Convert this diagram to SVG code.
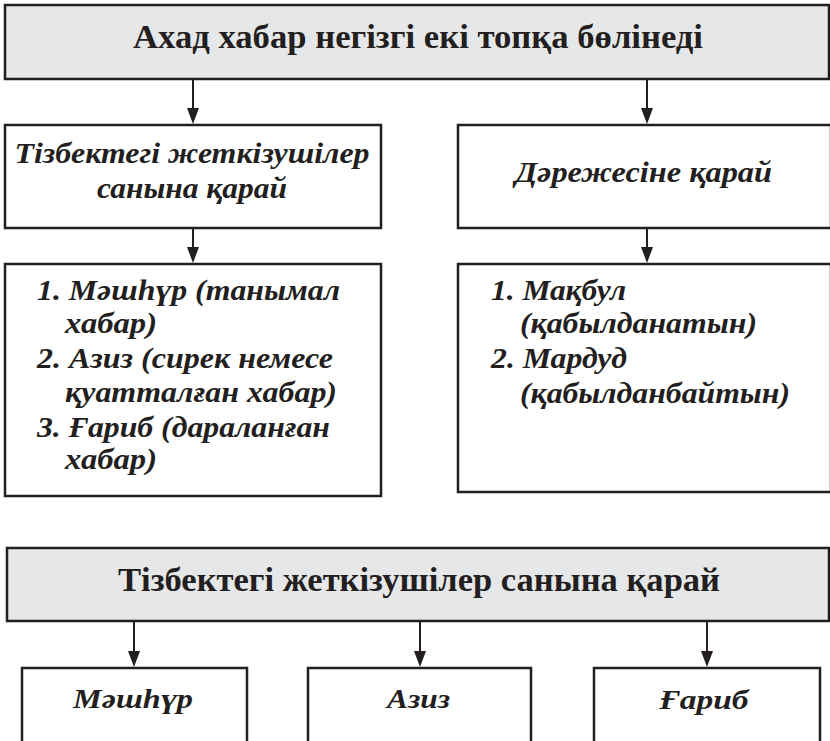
<svg xmlns="http://www.w3.org/2000/svg" width="830" height="741" viewBox="0 0 830 741">
  <defs>
    <style>
      .box { fill: #ffffff; stroke: #231f20; stroke-width: 2.5; }
      .gbox { fill: #e6e7e8; stroke: #231f20; stroke-width: 2.5; }
      .conn { stroke: #231f20; stroke-width: 2; fill: none; }
      .ah { fill: #231f20; }
    </style>
    <path id="ah" class="ah" d="M-6,-16 L6,-16 L0,0 Z"/>
  </defs>

  <g id="connectors">
    <line class="conn" x1="193" y1="80" x2="193" y2="110"/>
    <use href="#ah" x="193" y="124"/>
    <line class="conn" x1="647" y1="80" x2="647" y2="110"/>
    <use href="#ah" x="647" y="124"/>
    <line class="conn" x1="193" y1="229" x2="193" y2="250"/>
    <use href="#ah" x="193" y="263"/>
    <line class="conn" x1="647" y1="229" x2="647" y2="250"/>
    <use href="#ah" x="647" y="263"/>
    <line class="conn" x1="134" y1="622" x2="134" y2="654"/>
    <use href="#ah" x="134" y="667"/>
    <line class="conn" x1="420" y1="622" x2="420" y2="654"/>
    <use href="#ah" x="420" y="667"/>
    <line class="conn" x1="707" y1="622" x2="707" y2="654"/>
    <use href="#ah" x="707" y="667"/>
  </g>

  <g id="top-heading">
    <rect class="gbox" x="5" y="5" width="824" height="74"/>
    <text font-family="Liberation Serif" font-size="33" font-weight="bold" fill="#231f20" x="418" y="48" text-anchor="middle" textLength="570" lengthAdjust="spacingAndGlyphs">Ахад хабар негізгі екі топқа бөлінеді</text>
  </g>

  <g id="chain-count">
    <rect class="box" x="5" y="125" width="376" height="103"/>
    <text font-family="Liberation Serif" font-size="30" font-weight="bold" font-style="italic" fill="#231f20" x="192" y="163" text-anchor="middle" textLength="355" lengthAdjust="spacingAndGlyphs">Тізбектегі жеткізушілер</text>
    <text font-family="Liberation Serif" font-size="30" font-weight="bold" font-style="italic" fill="#231f20" x="192" y="198" text-anchor="middle" textLength="190" lengthAdjust="spacingAndGlyphs">санына қарай</text>
  </g>

  <g id="degree">
    <rect class="box" x="458" y="125" width="373" height="103"/>
    <text font-family="Liberation Serif" font-size="30" font-weight="bold" font-style="italic" fill="#231f20" x="643.5" y="182" text-anchor="middle" textLength="257" lengthAdjust="spacingAndGlyphs">Дәрежесіне қарай</text>
  </g>

  <g id="chain-list">
    <rect class="box" x="5" y="264" width="376" height="232"/>
    <text font-family="Liberation Serif" font-size="29" font-weight="bold" font-style="italic" fill="#231f20" x="37" y="300" textLength="303" lengthAdjust="spacingAndGlyphs">1. Мәшһүр (танымал</text>
    <text font-family="Liberation Serif" font-size="29" font-weight="bold" font-style="italic" fill="#231f20" x="65" y="333" textLength="92" lengthAdjust="spacingAndGlyphs">хабар)</text>
    <text font-family="Liberation Serif" font-size="29" font-weight="bold" font-style="italic" fill="#231f20" x="37" y="368" textLength="296" lengthAdjust="spacingAndGlyphs">2. Азиз (сирек немесе</text>
    <text font-family="Liberation Serif" font-size="29" font-weight="bold" font-style="italic" fill="#231f20" x="65" y="402" textLength="272" lengthAdjust="spacingAndGlyphs">қуатталған хабар)</text>
    <text font-family="Liberation Serif" font-size="29" font-weight="bold" font-style="italic" fill="#231f20" x="37" y="437" textLength="293" lengthAdjust="spacingAndGlyphs">3. Ғариб (дараланған</text>
    <text font-family="Liberation Serif" font-size="29" font-weight="bold" font-style="italic" fill="#231f20" x="65" y="469" textLength="92" lengthAdjust="spacingAndGlyphs">хабар)</text>
  </g>

  <g id="degree-list">
    <rect class="box" x="458" y="264" width="373" height="228"/>
    <text font-family="Liberation Serif" font-size="29" font-weight="bold" font-style="italic" fill="#231f20" x="491" y="300" textLength="135" lengthAdjust="spacingAndGlyphs">1. Мақбул</text>
    <text font-family="Liberation Serif" font-size="29" font-weight="bold" font-style="italic" fill="#231f20" x="520" y="333" textLength="237" lengthAdjust="spacingAndGlyphs">(қабылданатын)</text>
    <text font-family="Liberation Serif" font-size="29" font-weight="bold" font-style="italic" fill="#231f20" x="491" y="368" textLength="136" lengthAdjust="spacingAndGlyphs">2. Мардуд</text>
    <text font-family="Liberation Serif" font-size="29" font-weight="bold" font-style="italic" fill="#231f20" x="520" y="403" textLength="270" lengthAdjust="spacingAndGlyphs">(қабылданбайтын)</text>
  </g>

  <g id="bottom-heading">
    <rect class="gbox" x="7" y="548" width="822" height="73"/>
    <text font-family="Liberation Serif" font-size="33" font-weight="bold" fill="#231f20" x="419" y="591" text-anchor="middle" textLength="602" lengthAdjust="spacingAndGlyphs">Тізбектегі жеткізушілер санына қарай</text>
  </g>

  <g id="mashhur">
    <rect class="box" x="22" y="668" width="225" height="80"/>
    <text font-family="Liberation Serif" font-size="28" font-weight="bold" font-style="italic" fill="#231f20" x="133" y="708" text-anchor="middle" textLength="120" lengthAdjust="spacingAndGlyphs">Мәшһүр</text>
  </g>

  <g id="aziz">
    <rect class="box" x="308" y="668" width="223" height="80"/>
    <text font-family="Liberation Serif" font-size="28" font-weight="bold" font-style="italic" fill="#231f20" x="418.5" y="708" text-anchor="middle" textLength="63" lengthAdjust="spacingAndGlyphs">Азиз</text>
  </g>

  <g id="gharib">
    <rect class="box" x="594" y="668" width="226" height="80"/>
    <text font-family="Liberation Serif" font-size="28" font-weight="bold" font-style="italic" fill="#231f20" x="704" y="709" text-anchor="middle" textLength="89" lengthAdjust="spacingAndGlyphs">Ғариб</text>
  </g>
</svg>
